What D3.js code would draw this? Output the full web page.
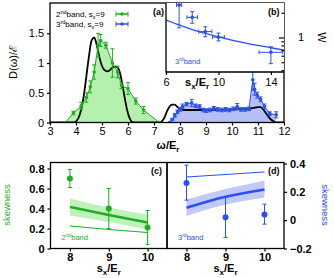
<!DOCTYPE html>
<html>
<head>
<meta charset="utf-8">
<script src="https://d3js.org/d3.v7.min.js"></script>
<style>
body{margin:0;background:#fff}
text{font-family:"Liberation Sans",Arial,sans-serif;fill:#000}
</style>
</head>
<body>
<svg id="chart" width="334" height="278"></svg>
<script>
// ---- panel (a): density of states
var green_w   = [3.6, 3.9, 4.2, 4.4, 4.55, 4.7, 4.85, 4.95, 5.15, 5.4, 5.6, 5.75, 6.0, 6.3, 6.6, 7.2];
var green_d   = [0.0, 0.16, 0.28, 0.42, 0.6, 0.85, 1.3, 1.38, 1.3, 1.0, 0.85, 0.62, 0.57, 0.36, 0.21, 0.0];
var green_err = [0, 0.03, 0.06, 0.08, 0.1, 0.12, 0.2, 0.1, 0.05, 0.24, 0.1, 0.05, 0.1, 0.05, 0.06, 0];

var blue_w   = [7.6, 7.7, 7.8, 7.9, 8.0, 8.1, 8.25, 8.45, 8.6, 8.75, 8.9, 9.0, 9.15, 9.3, 9.45, 9.6, 9.75, 9.9, 10.05, 10.2, 10.35, 10.5, 10.65, 10.8, 10.87, 10.97, 11.1, 11.25, 11.45, 11.7];
var blue_d   = [0.0, 0.05, 0.12, 0.18, 0.22, 0.27, 0.31, 0.33, 0.28, 0.27, 0.21, 0.2, 0.21, 0.24, 0.22, 0.21, 0.22, 0.21, 0.23, 0.27, 0.22, 0.22, 0.23, 0.72, 0.56, 0.46, 0.39, 0.27, 0.15, 0.13];
var blue_err = [0, 0.02, 0.03, 0.03, 0.03, 0.04, 0.03, 0.06, 0.03, 0.03, 0.03, 0.03, 0.03, 0.03, 0.03, 0.03, 0.03, 0.03, 0.03, 0.05, 0.03, 0.03, 0.03, 0.18, 0.1, 0.05, 0.04, 0.04, 0.03, 0.05];

var theory_w = [3.0, 3.9, 4.0, 4.1, 4.2, 4.3, 4.4, 4.5, 4.6, 4.7, 4.8, 4.9, 5.0, 5.1, 5.2, 5.3, 5.4, 5.5, 5.6, 5.7, 5.8, 5.9, 6.0, 6.1, 6.2, 7.2, 7.3, 7.4, 7.5, 7.6, 7.7, 7.8, 7.9, 8.0, 8.2, 8.5, 9.0, 9.5, 10.0, 10.5, 10.8, 11.0, 11.1, 11.2, 11.3, 11.4, 11.5, 11.6, 11.7, 12.0];
var theory_d = [0, 0, 0.02, 0.08, 0.22, 0.45, 0.78, 1.12, 1.38, 1.43, 1.3, 1.1, 0.95, 0.88, 0.86, 0.88, 0.92, 0.94, 0.93, 0.82, 0.6, 0.35, 0.15, 0.04, 0, 0, 0.02, 0.08, 0.19, 0.27, 0.3, 0.3, 0.26, 0.23, 0.21, 0.21, 0.21, 0.215, 0.22, 0.225, 0.24, 0.26, 0.26, 0.22, 0.16, 0.1, 0.05, 0.02, 0, 0];

var xTicksA = [3, 4, 5, 6, 7, 8, 9, 10, 11, 12];
var yTicksA = [0, 0.5, 1, 1.5];

// ---- panel (b): width W, 3rd band
var w_s     = [7, 8, 9, 10, 14];
var w_val   = [2.49, 1.76, 1.18, 1.01, 0.66];
var w_lo    = [1.31, 1.49, 1.02, 0.91, 0.48];
var w_hi    = [3.2, 2.06, 1.35, 1.13, 0.77];
var w_sErr  = [0.2, 0.4, 0.5, 0.45, 0.9];
var fit_s   = [6, 7, 8, 9, 10, 11, 12, 13, 14, 15];
var fit_w   = [1.63, 1.42, 1.25, 1.12, 1.02, 0.93, 0.86, 0.8, 0.75, 0.7];

// ---- panels (c), (d): skewness
var sk_s = [8, 9, 10];
var c_val = [0.70, 0.40, 0.21], c_lo = [0.61, 0.20, 0.04], c_hi = [0.79, 0.60, 0.38];
var c_fit = [0.415, 0.335, 0.26], c_fitLo = [0.33, 0.265, 0.19], c_fitHi = [0.5, 0.41, 0.34];
var c_thin = [0.225, 0.19, 0.16];
var d_val = [0.263, 0.02, 0.04], d_lo = [0.141, -0.122, -0.028], d_hi = [0.388, 0.16, 0.113];
var d_fit = [0.087, 0.165, 0.217], d_fitLo = [0.03, 0.11, 0.16], d_fitHi = [0.145, 0.22, 0.278];
var d_thin = [0.305, 0.322, 0.34];

var GREEN = "#1fae1f", GREEN_FILL = "#b4f0ae", BLUE = "#2a50f2", BLUE_FILL = "#b6bff4";

var svg = d3.select("#chart");

function errBar(g, x, y1, y2, col, cap) {
  g.append("line").attr("x1", x).attr("x2", x).attr("y1", y1).attr("y2", y2).attr("stroke", col).attr("stroke-width", 1);
  [y1, y2].forEach(function(yy) {
    g.append("line").attr("x1", x - cap).attr("x2", x + cap).attr("y1", yy).attr("y2", yy).attr("stroke", col).attr("stroke-width", 1);
  });
}
function hBar(g, x1, x2, y, col, cap) {
  g.append("line").attr("x1", x1).attr("x2", x2).attr("y1", y).attr("y2", y).attr("stroke", col).attr("stroke-width", 1);
  [x1, x2].forEach(function(xx) {
    g.append("line").attr("x1", xx).attr("x2", xx).attr("y1", y - cap).attr("y2", y + cap).attr("stroke", col).attr("stroke-width", 1);
  });
}
function styleAxis(g) {
  g.selectAll("path").remove();
  g.selectAll("line").attr("stroke", "#000").attr("stroke-width", 1.2);
  g.selectAll("text").style("font-size", "11px").attr("fill", "#000");
}

// ================= panel (a)
var x = d3.scaleLinear().domain([3, 12]).range([50, 284]);
var y = d3.scaleLinear().domain([0, 2.01]).range([122.5, 3]);

svg.append("clipPath").attr("id", "clipA").append("rect")
  .attr("x", 50).attr("y", 3).attr("width", 234).attr("height", 119.5);
var pa = svg.append("g").attr("clip-path", "url(#clipA)");

var area = d3.area().x(function(d) { return x(d[0]); }).y0(y(0)).y1(function(d) { return y(d[1]); });
var line = d3.line().x(function(d) { return x(d[0]); }).y(function(d) { return y(d[1]); });

var gData = d3.zip(green_w, green_d);
var bData = d3.zip(blue_w, blue_d);
pa.append("path").attr("d", area(gData)).attr("fill", GREEN_FILL);
pa.append("path").attr("d", area(bData)).attr("fill", BLUE_FILL);

pa.append("path").attr("d", line.curve(d3.curveMonotoneX)(d3.zip(theory_w, theory_d)))
  .attr("fill", "none").attr("stroke", "#000").attr("stroke-width", 1.8);
line.curve(d3.curveLinear);

[[gData, green_err, GREEN], [bData, blue_err, BLUE]].forEach(function(s) {
  pa.append("path").attr("d", line(s[0])).attr("fill", "none").attr("stroke", s[2]).attr("stroke-width", 1);
  s[0].forEach(function(d, i) {
    if (s[1][i] > 0) errBar(pa, x(d[0]), y(d[1] - s[1][i]), y(d[1] + s[1][i]), s[2], 2);
    pa.append("circle").attr("cx", x(d[0])).attr("cy", y(d[1])).attr("r", 1.8).attr("fill", s[2]);
  });
});

var axA = svg.append("g").attr("transform", "translate(0,122.5)")
  .call(d3.axisBottom(x).tickValues(xTicksA).tickSize(3).tickPadding(2).tickFormat(d3.format("d")));
styleAxis(axA);
var ayA = svg.append("g").attr("transform", "translate(50,0)")
  .call(d3.axisLeft(y).tickValues(yTicksA).tickSize(3).tickPadding(3).tickFormat(function(d) { return d; }));
styleAxis(ayA);

svg.append("rect").attr("x", 50).attr("y", 3).attr("width", 234).attr("height", 119.5)
  .attr("fill", "none").attr("stroke", "#000").attr("stroke-width", 1.3);

// legend
var leg = [["nd", GREEN, 17], ["rd", BLUE, 27]];
leg.forEach(function(l, i) {
  var t = svg.append("text").attr("x", 56).attr("y", l[2]).style("font-size", "8px");
  t.append("tspan").text(i === 0 ? "2" : "3");
  t.append("tspan").attr("dy", -3).style("font-size", "5.5px").text(l[0]);
  t.append("tspan").attr("dy", 3).text("band, s");
  t.append("tspan").attr("dy", 2).style("font-size", "5.5px").text("x");
  t.append("tspan").attr("dy", -2).text("=9");
  var ly = l[2] - 3;
  svg.append("line").attr("x1", 116).attr("x2", 128).attr("y1", ly).attr("y2", ly).attr("stroke", l[1]).attr("stroke-width", 1);
  hBar(svg, 116, 128, ly, l[1], 2.5);
  svg.append("circle").attr("cx", 122).attr("cy", ly).attr("r", 1.8).attr("fill", l[1]);
});
svg.append("text").attr("x", 153).attr("y", 15).style("font-size", "9px").style("font-weight", "bold").text("(a)");

svg.append("text").attr("transform", "translate(17,62) rotate(-90)").attr("text-anchor", "middle")
  .style("font-size", "11px").text("D(ω)/ℰ");
var xl = svg.append("text").attr("x", 168).attr("y", 149).attr("text-anchor", "middle").style("font-size", "11px").style("font-weight", "bold");
xl.append("tspan").text("ω/E");
xl.append("tspan").attr("dy", 2.5).style("font-size", "8px").text("r");

// ================= panel (b) inset
var xi = d3.scaleLinear().domain([6, 15]).range([166, 284]);
var yi = d3.scaleLog().domain([0.38, 2.63]).range([72, 3]);
svg.append("rect").attr("x", 166).attr("y", 3).attr("width", 118).attr("height", 69).attr("fill", "#fff");
svg.append("clipPath").attr("id", "clipB").append("rect").attr("x", 166).attr("y", 3).attr("width", 118).attr("height", 69);
var pb = svg.append("g").attr("clip-path", "url(#clipB)");

pb.append("path").attr("d", d3.line().curve(d3.curveMonotoneX)
    .x(function(d) { return xi(d[0]); }).y(function(d) { return yi(d[1]); })(d3.zip(fit_s, fit_w)))
  .attr("fill", "none").attr("stroke", BLUE).attr("stroke-width", 1.3);
w_s.forEach(function(s, i) {
  errBar(pb, xi(s), yi(w_lo[i]), yi(w_hi[i]), BLUE, 2);
  hBar(pb, xi(s - w_sErr[i]), xi(s + w_sErr[i]), yi(w_val[i]), BLUE, 2);
  pb.append("circle").attr("cx", xi(s)).attr("cy", yi(w_val[i])).attr("r", 1.8).attr("fill", BLUE);
});

var axB = svg.append("g").attr("transform", "translate(0,72)")
  .call(d3.axisBottom(xi).tickValues([6, 10, 14]).tickSize(3).tickPadding(3).tickFormat(d3.format("d")));
styleAxis(axB);
var ayB = svg.append("g").attr("transform", "translate(284,0)")
  .call(d3.axisLeft(yi).tickValues(yi.ticks()).tickSize(2.5).tickFormat(function() { return ""; }));
styleAxis(ayB);
ayB.selectAll(".tick line").filter(function(d) { return d === 1; }).attr("x2", -5);
svg.append("text").attr("x", 298).attr("y", yi(1) + 4).style("font-size", "11px").text("1");
svg.append("text").attr("transform", "translate(318," + yi(1) + ") rotate(90)").attr("text-anchor", "middle")
  .style("font-size", "11px").text("W");
svg.append("path").attr("d", "M166,3V72H284").attr("fill", "none").attr("stroke", "#000").attr("stroke-width", 1.3);

var sl = svg.append("text").attr("x", 185).attr("y", 86).style("font-size", "11px").style("font-weight", "bold");
sl.append("tspan").text("s");
sl.append("tspan").attr("dy", 2.5).style("font-size", "8px").text("x");
sl.append("tspan").attr("dy", -2.5).text("/E");
sl.append("tspan").attr("dy", 2.5).style("font-size", "8px").text("r");
svg.append("text").attr("x", 268).attr("y", 15).style("font-size", "9px").style("font-weight", "bold").text("(b)");
var b3 = svg.append("text").attr("x", 175).attr("y", 64).style("font-size", "7.5px").attr("fill", BLUE).style("fill", BLUE);
b3.append("tspan").text("3");
b3.append("tspan").attr("dy", -3).style("font-size", "5px").text("rd");
b3.append("tspan").attr("dy", 3).text("band");

// ================= panels (c) and (d)
function skewPanel(opt) {
  var xs = d3.scaleLinear().domain([7.5, 10.5]).range([opt.x0, opt.x1]);
  var ys = d3.scaleLinear().domain(opt.dom).range([248.5, 162.5]);
  var g = svg.append("g");
  g.append("path").attr("d", d3.area().curve(d3.curveMonotoneX).x(function(d) { return xs(d[0]); })
      .y0(function(d) { return ys(d[1]); }).y1(function(d) { return ys(d[2]); })(d3.zip(sk_s, opt.fitLo, opt.fitHi)))
    .attr("fill", opt.fill).attr("opacity", 0.85);
  var ln = d3.line().curve(d3.curveMonotoneX).x(function(d) { return xs(d[0]); }).y(function(d) { return ys(d[1]); });
  g.append("path").attr("d", ln(d3.zip(sk_s, opt.fit))).attr("fill", "none").attr("stroke", opt.col).attr("stroke-width", 2.6);
  g.append("path").attr("d", ln(d3.zip(sk_s, opt.thin))).attr("fill", "none").attr("stroke", opt.col).attr("stroke-width", 1.1);
  sk_s.forEach(function(s, i) {
    errBar(g, xs(s), ys(opt.lo[i]), ys(opt.hi[i]), opt.col, 2);
    g.append("circle").attr("cx", xs(s)).attr("cy", ys(opt.val[i])).attr("r", 3).attr("fill", opt.col);
  });
  var ax = svg.append("g").attr("transform", "translate(0,248.5)")
    .call(d3.axisBottom(xs).tickValues(sk_s).tickSize(3).tickPadding(2).tickFormat(d3.format("d")));
  styleAxis(ax);
  ax.selectAll("text").style("font-weight", "bold");
  var ay = svg.append("g").attr("transform", "translate(" + (opt.right ? opt.x1 : opt.x0) + ",0)")
    .call((opt.right ? d3.axisRight(ys) : d3.axisLeft(ys)).tickValues(opt.ticks).tickSize(3).tickPadding(3)
      .tickFormat(function(d) { return d === 0 ? "0" : d3.format(".1f")(d); }));
  styleAxis(ay);
  ay.selectAll("text").style("font-weight", "bold");
  svg.append("rect").attr("x", opt.x0).attr("y", 162.5).attr("width", opt.x1 - opt.x0).attr("height", 86)
    .attr("fill", "none").attr("stroke", "#000").attr("stroke-width", 1.3);
  var lb = svg.append("text").attr("x", (opt.x0 + opt.x1) / 2).attr("y", 272).attr("text-anchor", "middle")
    .style("font-size", "11px").style("font-weight", "bold");
  lb.append("tspan").text("s");
  lb.append("tspan").attr("dy", 2.5).style("font-size", "8px").text("x");
  lb.append("tspan").attr("dy", -2.5).text("/E");
  lb.append("tspan").attr("dy", 2.5).style("font-size", "8px").text("r");
  svg.append("text").attr("x", opt.x1 - 16).attr("y", 174).style("font-size", "9px").style("font-weight", "bold").text(opt.tag);
  var bl = svg.append("text").attr("x", opt.x0 + 11).attr("y", 240).style("font-size", "7.5px").style("fill", opt.col);
  bl.append("tspan").text(opt.band[0]);
  bl.append("tspan").attr("dy", -3).style("font-size", "5px").text(opt.band[1]);
  bl.append("tspan").attr("dy", 3).text("band");
  var sx = opt.right ? 322 : 10;
  svg.append("text").attr("transform", "translate(" + sx + ",205) rotate(" + (opt.right ? 90 : -90) + ")")
    .attr("text-anchor", "middle").style("font-size", "9.5px").style("fill", opt.col).text("skewness");
}

skewPanel({x0: 50.5, x1: 167, dom: [0, 0.86], ticks: [0, 0.2, 0.4, 0.6, 0.8], right: false,
  val: c_val, lo: c_lo, hi: c_hi, fit: c_fit, fitLo: c_fitLo, fitHi: c_fitHi, thin: c_thin,
  col: GREEN, fill: GREEN_FILL, tag: "(c)", band: ["2", "nd"]});
skewPanel({x0: 167, x1: 284, dom: [-0.2, 0.407], ticks: [-0.2, 0, 0.2, 0.4], right: true,
  val: d_val, lo: d_lo, hi: d_hi, fit: d_fit, fitLo: d_fitLo, fitHi: d_fitHi, thin: d_thin,
  col: BLUE, fill: BLUE_FILL, tag: "(d)", band: ["3", "rd"]});
</script>
</body>
</html>
